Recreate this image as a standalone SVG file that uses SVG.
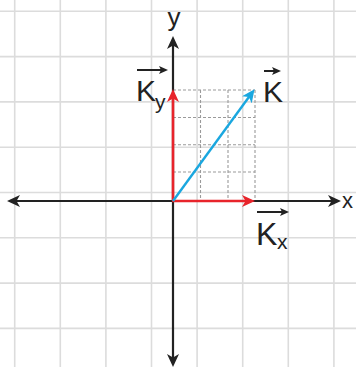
<svg xmlns="http://www.w3.org/2000/svg" width="356" height="367" viewBox="0 0 356 367">
<style>
.grid line{stroke:#dcdcdc;stroke-width:1.6}
.dash line{stroke:#9a9a9a;stroke-width:1.1;stroke-dasharray:3 2}
.axis{stroke:#222;stroke-width:2.2;fill:none}
.red{stroke:#e8242b;stroke-width:2.6;fill:none}
.blue{stroke:#1aa7df;stroke-width:2.4;fill:none}
.vec{stroke:#222;stroke-width:2;fill:none}
.lbl{font-family:"Liberation Sans",Arial,sans-serif;fill:#222}
</style>
<defs>
<marker id="ab" markerUnits="userSpaceOnUse" markerWidth="14" markerHeight="12" refX="6" refY="6" orient="auto-start-reverse" viewBox="0 0 14 12">
<path d="M0,0 L13,6 L0,12 L3.5,6 z" fill="#222"/>
</marker>
<marker id="ar" markerUnits="userSpaceOnUse" markerWidth="14" markerHeight="12" refX="6" refY="6" orient="auto" viewBox="0 0 14 12">
<path d="M0,0 L13,6 L0,12 L3.5,6 z" fill="#e8242b"/>
</marker>
<marker id="abl" markerUnits="userSpaceOnUse" markerWidth="14" markerHeight="12" refX="6" refY="6" orient="auto" viewBox="0 0 14 12">
<path d="M0,0 L13,6 L0,12 L3.5,6 z" fill="#1aa7df"/>
</marker>
<marker id="as" markerUnits="userSpaceOnUse" markerWidth="10" markerHeight="8" refX="4" refY="4" orient="auto" viewBox="0 0 10 8">
<path d="M0,0 L9,4 L0,8 L2,4 z" fill="#222"/>
</marker>
</defs>
<rect width="356" height="367" fill="#fff"/>
<g class="grid">
<line x1="14.7" y1="0" x2="14.7" y2="367"/>
<line x1="60.3" y1="0" x2="60.3" y2="367"/>
<line x1="105.9" y1="0" x2="105.9" y2="367"/>
<line x1="151.5" y1="0" x2="151.5" y2="367"/>
<line x1="197.1" y1="0" x2="197.1" y2="367"/>
<line x1="242.7" y1="0" x2="242.7" y2="367"/>
<line x1="288.3" y1="0" x2="288.3" y2="367"/>
<line x1="333.9" y1="0" x2="333.9" y2="367"/>
<line x1="0" y1="11.3" x2="356" y2="11.3"/>
<line x1="0" y1="56.6" x2="356" y2="56.6"/>
<line x1="0" y1="101.9" x2="356" y2="101.9"/>
<line x1="0" y1="147.2" x2="356" y2="147.2"/>
<line x1="0" y1="192.5" x2="356" y2="192.5"/>
<line x1="0" y1="237.8" x2="356" y2="237.8"/>
<line x1="0" y1="283.1" x2="356" y2="283.1"/>
<line x1="0" y1="328.4" x2="356" y2="328.4"/>
</g>
<g class="dash">
<line x1="173" y1="90" x2="255" y2="90"/>
<line x1="173" y1="117.5" x2="255" y2="117.5"/>
<line x1="173" y1="144.8" x2="255" y2="144.8"/>
<line x1="173" y1="172" x2="255" y2="172"/>
<line x1="200.5" y1="90" x2="200.5" y2="201"/>
<line x1="228" y1="90" x2="228" y2="201"/>
<line x1="255" y1="90" x2="255" y2="201"/>
</g>
<g id="connectors">
<line class="axis" x1="14" y1="201" x2="334" y2="201" marker-end="url(#ab)" marker-start="url(#ab)"/>
<line class="axis" x1="173" y1="360" x2="173" y2="43" marker-end="url(#ab)" marker-start="url(#ab)"/>
<line class="red" x1="173" y1="201" x2="173" y2="96" marker-end="url(#ar)"/>
<line class="red" x1="172" y1="201" x2="248" y2="201" marker-end="url(#ar)"/>
<line class="blue" x1="173" y1="201" x2="250.4" y2="95" marker-end="url(#abl)"/>
</g>
<g id="label-y"><text class="lbl" x="174" y="26" font-size="26" text-anchor="middle">y</text></g>
<g id="label-x"><text class="lbl" x="342" y="208" font-size="22">x</text></g>
<g id="label-K">
<line class="vec" x1="264" y1="71" x2="276" y2="71" marker-end="url(#as)"/>
<text class="lbl" x="263" y="102" font-size="30">K</text>
</g>
<g id="label-Ky">
<line class="vec" x1="137" y1="70" x2="163" y2="70" marker-end="url(#as)"/>
<text class="lbl" x="136" y="101" font-size="30">K</text>
<text class="lbl" x="155" y="109" font-size="21">y</text>
</g>
<g id="label-Kx">
<line class="vec" x1="257" y1="212" x2="284" y2="212" marker-end="url(#as)"/>
<text class="lbl" x="256" y="245" font-size="32">K</text>
<text class="lbl" x="277" y="249" font-size="21">x</text>
</g>
</svg>
